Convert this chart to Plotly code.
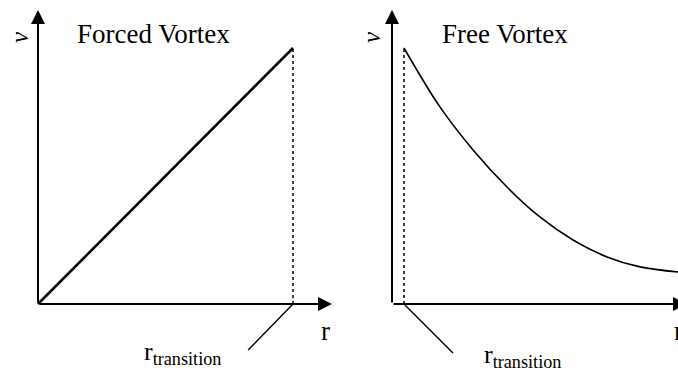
import plotly.graph_objects as go

# ---------------- data (units: left r_transition = 1, v at r_transition = 1) ----------------
forced_r = [0.0, 1.0]
forced_v = [0.0, 1.0]

free_r = [0.047, 0.188, 0.318, 0.451, 0.580, 0.710, 0.843, 0.973, 1.122]
free_v = [1.000, 0.770, 0.602, 0.457, 0.340, 0.250, 0.184, 0.145, 0.125]

r_trans_forced = 1.0
r_trans_free = 0.047

titles = ["Forced Vortex", "Free Vortex"]
y_label = "v"
x_label = "r"
trans_label = "r<sub>transition</sub>"

FONT = "Liberation Serif, Times New Roman, serif"
BLACK = "#000000"

fig = go.Figure()

# forced vortex line
fig.add_trace(go.Scatter(x=forced_r, y=forced_v, mode="lines",
                         line=dict(color=BLACK, width=2.6), xaxis="x", yaxis="y",
                         hoverinfo="skip"))
# dotted transition line (left)
fig.add_trace(go.Scatter(x=[r_trans_forced, r_trans_forced], y=[0, forced_v[-1]], mode="lines",
                         line=dict(color=BLACK, width=1.5, dash="dot"), xaxis="x", yaxis="y",
                         hoverinfo="skip"))
# leader line (left)
fig.add_trace(go.Scatter(x=[r_trans_forced, 0.824], y=[0, -0.18], mode="lines",
                         line=dict(color=BLACK, width=1.4), xaxis="x", yaxis="y",
                         hoverinfo="skip"))

# free vortex curve
fig.add_trace(go.Scatter(x=free_r, y=free_v, mode="lines",
                         line=dict(color=BLACK, width=1.6, shape="spline", smoothing=1.0),
                         xaxis="x2", yaxis="y2", hoverinfo="skip"))
# dotted transition line (right)
fig.add_trace(go.Scatter(x=[r_trans_free, r_trans_free], y=[0, free_v[0]], mode="lines",
                         line=dict(color=BLACK, width=1.5, dash="dot"), xaxis="x2", yaxis="y2",
                         hoverinfo="skip"))
# leader line (right)
fig.add_trace(go.Scatter(x=[r_trans_free, 0.239], y=[0, -0.191], mode="lines",
                         line=dict(color=BLACK, width=1.4), xaxis="x2", yaxis="y2",
                         hoverinfo="skip"))

ann = []
for xr, yr, xtip in (("x", "y", 1.153), ("x2", "y2", 1.157)):
    # y axis arrow
    ann.append(dict(x=0, y=1.148, ax=0, ay=0, xref=xr, yref=yr, axref=xr, ayref=yr,
                    text="", showarrow=True, arrowhead=2, arrowsize=1.4, arrowwidth=2,
                    arrowcolor=BLACK, standoff=0, startstandoff=0))
    # x axis arrow
    ann.append(dict(x=xtip, y=0, ax=0, ay=0, xref=xr, yref=yr, axref=xr, ayref=yr,
                    text="", showarrow=True, arrowhead=2, arrowsize=1.4, arrowwidth=2,
                    arrowcolor=BLACK, standoff=0, startstandoff=0))

# titles
ann.append(dict(x=0.145, y=1.055, xref="x", yref="y", text=titles[0], showarrow=False,
                xanchor="left", yanchor="middle", font=dict(family=FONT, size=27, color=BLACK)))
ann.append(dict(x=0.188, y=1.055, xref="x2", yref="y2", text=titles[1], showarrow=False,
                xanchor="left", yanchor="middle", font=dict(family=FONT, size=27, color=BLACK)))

# y labels
for xr, yr, xv in (("x", "y", -0.071), ("x2", "y2", -0.078)):
    ann.append(dict(x=xv, y=1.043, xref=xr, yref=yr, text="<i>" + y_label + "</i>",
                    showarrow=False, textangle=-90, xanchor="center", yanchor="middle",
                    font=dict(family=FONT, size=25, color=BLACK)))

# x labels
ann.append(dict(x=1.129, y=-0.105, xref="x", yref="y", text=x_label, showarrow=False,
                xanchor="center", yanchor="middle", font=dict(family=FONT, size=27, color=BLACK)))
ann.append(dict(x=1.098, y=-0.105, xref="x2", yref="y2", text=x_label, showarrow=False,
                xanchor="left", yanchor="middle", font=dict(family=FONT, size=27, color=BLACK)))

# r_transition labels
ann.append(dict(x=0.408, y=-0.19, xref="x", yref="y", text=trans_label, showarrow=False,
                xanchor="left", yanchor="middle", font=dict(family=FONT, size=26, color=BLACK)))
ann.append(dict(x=0.353, y=-0.205, xref="x2", yref="y2", text=trans_label, showarrow=False,
                xanchor="left", yanchor="middle", font=dict(family=FONT, size=26, color=BLACK)))

hidden = dict(visible=False, showgrid=False, zeroline=False, fixedrange=True)

fig.update_layout(
    width=678, height=373,
    margin=dict(l=0, r=0, t=0, b=0),
    paper_bgcolor="white", plot_bgcolor="white",
    showlegend=False,
    xaxis=dict(domain=[0, 0.5], range=[-0.149, 1.1804], **hidden),
    yaxis=dict(domain=[0, 1], range=[-0.2695, 1.1875], **hidden),
    xaxis2=dict(domain=[0.5, 1], range=[-0.2078, 1.1216], anchor="y2", **hidden),
    yaxis2=dict(domain=[0, 1], range=[-0.2695, 1.1875], anchor="x2", **hidden),
    annotations=ann,
)

fig.write_html("out.html", config=dict(displayModeBar=False),
               post_script="document.body.style.margin='0';document.body.style.overflow='hidden';")
